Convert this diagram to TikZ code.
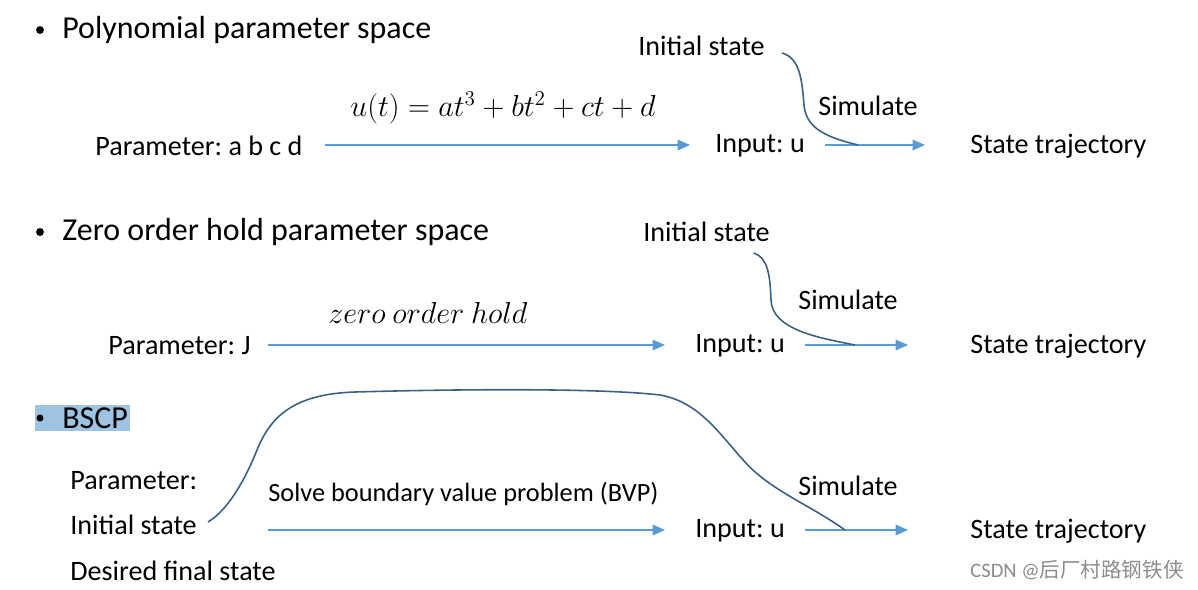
\documentclass[tikz,border=0pt]{standalone}
\usepackage{fontspec}
\setmainfont{Carlito}
\newfontfamily\cjk{Noto Sans CJK SC}
\usetikzlibrary{arrows.meta}
\frenchspacing
\definecolor{arr}{RGB}{91,155,213}
\definecolor{crv}{RGB}{58,96,134}
\definecolor{hl}{RGB}{158,196,228}
\tikzset{
  lbl/.style={anchor=west,inner sep=0pt,font=\fontsize{16}{18}\selectfont},
  ttl/.style={anchor=west,inner sep=0pt,font=\fontsize{18.2}{20}\selectfont},
  bul/.style={circle,fill=black,inner sep=0pt,minimum size=4.5pt},
  flow/.style={draw=arr,line width=0.8pt,-{Triangle[length=7pt,width=6pt]}},
  sim/.style={draw=crv,line width=0.9pt},
}
\begin{document}
\begin{tikzpicture}[x=0.02cm,y=-0.02cm]
\useasboundingbox (0,0) rectangle (1198,589);
% Row 1
\node[bul] (b1) at (40,30) {};
\node[ttl] (t1) at (62,30) {Polynomial parameter space};
\node[lbl] (p1) at (95,146) {Parameter: a b c d};
\node[lbl] (u1) at (715,146) {Input: u};
\node[lbl] (s1) at (970,146) {State trajectory};
\node[lbl] (i1) at (638,46) {Initial state};
\node[lbl] (m1) at (818,106) {Simulate};
\node[inner sep=0pt,font=\fontsize{17.5}{19}\selectfont] (f1) at (503,108) {$u(t)=at^3+bt^2+ct+d$};
\coordinate (a1s) at (325,145);
\coordinate (a1e) at (690,145);
\coordinate (b1s) at (825,145);
\coordinate (b1e) at (925,145);
\coordinate (c1s) at (782,53);
\coordinate (c1e) at (858,145);
\draw[flow] (a1s) -- (a1e);
\draw[flow] (b1s) -- (b1e);
\draw[sim] (c1s) .. controls (800,58) and (802,80) .. (804,105) .. controls (806,130) and (830,138) .. (c1e);
% Row 2
\node[bul] (b2) at (40,232) {};
\node[ttl] (t2) at (62,232) {Zero order hold parameter space};
\node[lbl] (p2) at (108,346) {Parameter: J};
\node[lbl] (u2) at (695,346) {Input: u};
\node[lbl] (s2) at (970,346) {State trajectory};
\node[lbl] (i2) at (643,232) {Initial state};
\node[lbl] (m2) at (798,300) {Simulate};
\node[inner sep=0pt,font=\fontsize{17}{19}\selectfont] (f2) at (428,313) {$zero\ order\ hold$};
\coordinate (a2s) at (268,345);
\coordinate (a2e) at (665,345);
\coordinate (b2s) at (805,345);
\coordinate (b2e) at (908,345);
\coordinate (c2s) at (754,253);
\coordinate (c2e) at (855,345);
\draw[flow] (a2s) -- (a2e);
\draw[flow] (b2s) -- (b2e);
\draw[sim] (c2s) .. controls (768,258) and (770,275) .. (771,300) .. controls (772,330) and (820,338) .. (c2e);
% Row 3
\fill[hl] (35,405) rectangle (130,431);
\node[bul,minimum size=4pt] (b3) at (40,418) {};
\node[ttl] (t3) at (62,418) {BSCP};
\node[lbl] (p3) at (70,481) {Parameter:};
\node[lbl] (i3) at (70,525) {Initial state};
\node[lbl] (d3) at (70,571) {Desired final state};
\node[lbl,font=\fontsize{15}{17}\selectfont] (v3) at (268,494) {Solve boundary value problem (BVP)};
\node[lbl] (u3) at (695,531) {Input: u};
\node[lbl] (s3) at (970,531) {State trajectory};
\node[lbl] (m3) at (798,486) {Simulate};
\coordinate (a3s) at (268,530);
\coordinate (a3e) at (665,530);
\coordinate (b3s) at (805,530);
\coordinate (b3e) at (908,530);
\coordinate (c3s) at (208,522);
\coordinate (c3e) at (845,530);
\draw[flow] (a3s) -- (a3e);
\draw[flow] (b3s) -- (b3e);
\draw[sim] (c3s) .. controls (228,510) and (245,480) .. (257,450)
  .. controls (270,418) and (292,394) .. (355,392)
  .. controls (460,389) and (600,388) .. (660,395)
  .. controls (700,402) and (720,435) .. (745,462)
  .. controls (770,490) and (810,505) .. (c3e);
% watermark
\node[anchor=west,inner sep=0pt,text=black!45,font=\fontsize{11.7}{13}\selectfont] (wm) at (970,570) {CSDN @{\cjk 后厂村路钢铁侠}};
\end{tikzpicture}
\end{document}
